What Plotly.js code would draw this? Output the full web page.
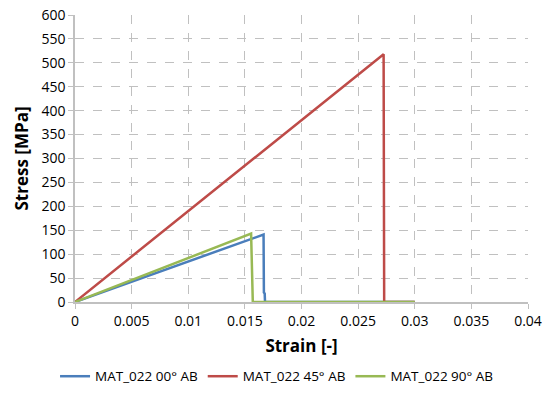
<!DOCTYPE html>
<html><head><meta charset="utf-8">
<script src="https://cdn.plot.ly/plotly-3.0.1.min.js"></script>
<style>html,body{margin:0;padding:0;background:#fff}#c{width:552px;height:403px}</style>
</head><body><div id="c"></div>
<script>
const names = ["MAT_022 00° AB", "MAT_022 45° AB", "MAT_022 90° AB"];
const colors = ["#4a7ebb", "#be4b48", "#98b954"];
const strain00 = [0, 0.01665, 0.01668, 0.01675, 0.01678, 0.03];
const stress00 = [0, 141, 20, 18, 0, 0];
const strain45 = [0, 0.02725, 0.0273, 0.03];
const stress45 = [0, 518, 0, 0];
const strain90 = [0, 0.01555, 0.0157, 0.03];
const stress90 = [0, 143, 0, 0];
const xTicks = [0, 0.005, 0.01, 0.015, 0.02, 0.025, 0.03, 0.035, 0.04];
const xTickText = ["0", "0.005", "0.01", "0.015", "0.02", "0.025", "0.03", "0.035", "0.04"];

const xs = [strain00, strain45, strain90], ys = [stress00, stress45, stress90];
const data = names.map((n, i) => ({
  x: xs[i], y: ys[i], name: n, type: 'scatter', mode: 'lines',
  line: {color: colors[i], width: 2.5}
}));
const font = {family: "Open Sans, sans-serif", size: 14, color: "#000"};
const layout = {
  width: 552, height: 403,
  margin: {l: 75, r: 24, t: 15, b: 100},
  paper_bgcolor: '#fff', plot_bgcolor: '#fff',
  font: font,
  showlegend: true,
  legend: {orientation: 'h', x: 0.446, xanchor: 'center', xref: 'paper',
           y: -0.255, yanchor: 'middle', yref: 'paper',
           font: {size: 13.5}},
  xaxis: {
    range: [0, 0.04], tickvals: xTicks, ticktext: xTickText,
    showgrid: true, gridcolor: '#c0c0c0', griddash: 'dash', gridwidth: 1,
    showline: true, linecolor: '#c0c0c0', linewidth: 1.5,
    ticks: 'outside', ticklen: 5, tickcolor: '#c0c0c0',
    zeroline: false, automargin: false,
    title: {text: "<b>Strain [-]</b>", font: {size: 17}, standoff: 12}
  },
  yaxis: {
    range: [0, 600], dtick: 50,
    showgrid: true, gridcolor: '#c0c0c0', griddash: 'dash', gridwidth: 1,
    showline: true, linecolor: '#c0c0c0', linewidth: 1.5,
    ticks: 'outside', ticklen: 5, tickcolor: '#c0c0c0',
    zeroline: false, automargin: false,
    title: {text: "<b>Stress [MPa]</b>", font: {size: 17}, standoff: 8}
  }
};
Plotly.newPlot('c', data, layout, {displayModeBar: false});
</script></body></html>
